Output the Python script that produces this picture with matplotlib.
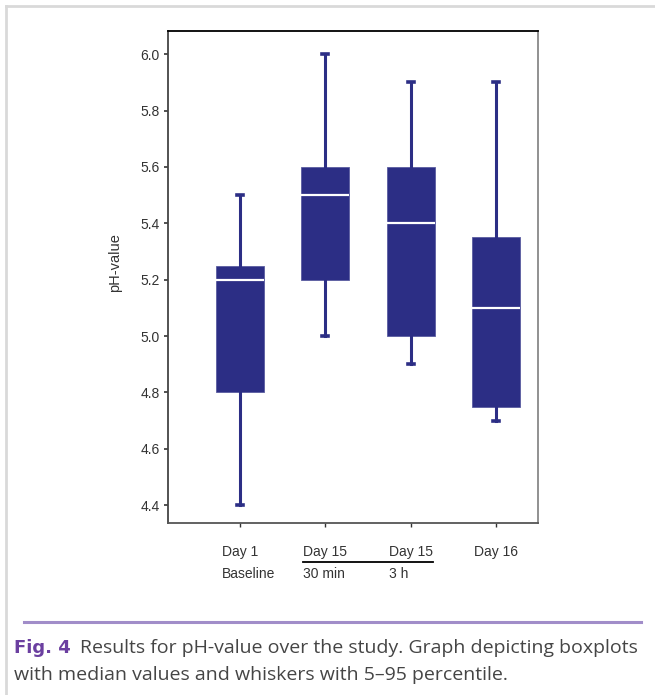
import matplotlib
matplotlib.use("Agg")
import matplotlib.pyplot as plt
from matplotlib.lines import Line2D

# data
groups = ['Day 1', 'Day 15', 'Day 15', 'Day 16']
subgroups = ['Baseline', '30 min', '3 h', '']
q1 = [4.80, 5.20, 5.00, 4.75]
med = [5.20, 5.50, 5.40, 5.10]
q3 = [5.25, 5.60, 5.60, 5.35]
p5 = [4.40, 5.00, 4.90, 4.70]
p95 = [5.50, 6.00, 5.90, 5.90]
yticks = [4.4, 4.6, 4.8, 5.0, 5.2, 5.4, 5.6, 5.8, 6.0]

navy = '#2c2e85'
W, H = 655, 695

plt.rcParams['font.family'] = ['Liberation Sans', 'DejaVu Sans']

fig = plt.figure(figsize=(W / 100, H / 100), dpi=100)
fig.patch.set_facecolor('white')

ax = fig.add_axes([168 / W, 1 - 523 / H, 370 / W, 492 / H])

stats = []
for i in range(len(groups)):
    stats.append(dict(q1=q1[i], med=med[i], q3=q3[i], whislo=p5[i], whishi=p95[i], fliers=[]))

pos = [1, 2, 3, 4]
ax.bxp(stats, positions=pos, widths=0.56, patch_artist=True, showfliers=False,
       boxprops=dict(facecolor=navy, edgecolor='#5a5ca0', linewidth=0.6),
       medianprops=dict(color='white', linewidth=1.6),
       whiskerprops=dict(color=navy, linewidth=2.2),
       capprops=dict(color=navy, linewidth=2.6),
       capwidths=0.07)

ax.set_xlim(0.16, 4.49)
ax.set_ylim(4.337, 6.082)
ax.set_yticks(yticks)
ax.set_yticklabels(['%.1f' % v for v in yticks])
ax.set_xticks(pos)
ax.set_xticklabels(groups)
ax.tick_params(axis='y', direction='out', length=3, width=1.2, pad=3, labelsize=10, colors='#333333')
ax.tick_params(axis='x', direction='out', length=3, width=1.0, pad=13, labelsize=10, colors='#333333')
ax.set_ylabel('pH-value', fontsize=10.5, color='#333333', labelpad=13)
ax.yaxis.label.set_y(0.53)

ax.spines['left'].set_color('#444444')
ax.spines['bottom'].set_color('#555555')
ax.spines['top'].set_color('black')
ax.spines['right'].set_color('#888888')
for s in ax.spines.values():
    s.set_linewidth(1.3)

# second row of x labels, left aligned under the first row
fig.canvas.draw()
r = fig.canvas.get_renderer()
bbs = [t.get_window_extent(r) for t in ax.get_xticklabels()]
for bb, txt in zip(bbs, subgroups):
    if txt:
        fig.text(bb.x0 / W, 1 - 574 / H, txt, ha='left', va='center', fontsize=10, color='#333333')
fig.add_artist(Line2D([bbs[1].x0 / W, bbs[2].x1 / W], [1 - 562 / H, 1 - 562 / H],
                      color='black', linewidth=1.3))

# card frame and caption
fig.add_artist(Line2D([6 / W, 6 / W], [0, 1 - 6 / H], color='#d9d9d9', linewidth=2))
fig.add_artist(Line2D([6 / W, 1], [1 - 6 / H, 1 - 6 / H], color='#d9d9d9', linewidth=2))
fig.add_artist(Line2D([24 / W, 641 / W], [1 - 622 / H, 1 - 622 / H], color='#a18dc9', linewidth=2.2))

fig.text(14 / W, 1 - 648 / H, 'Fig. 4', ha='left', va='center', fontsize=13,
         fontweight='bold', color='#6b3fa0', family=['Liberation Sans Narrow', 'DejaVu Sans'])
fig.text(80 / W, 1 - 648 / H, 'Results for pH-value over the study. Graph depicting boxplots',
         ha='left', va='center', fontsize=14, color='#454545', family=['Open Sans', 'DejaVu Sans'])
fig.text(14 / W, 1 - 675 / H, 'with median values and whiskers with 5\u201395 percentile.',
         ha='left', va='center', fontsize=14, color='#454545', family=['Open Sans', 'DejaVu Sans'])

fig.savefig('out.png', dpi=100)
